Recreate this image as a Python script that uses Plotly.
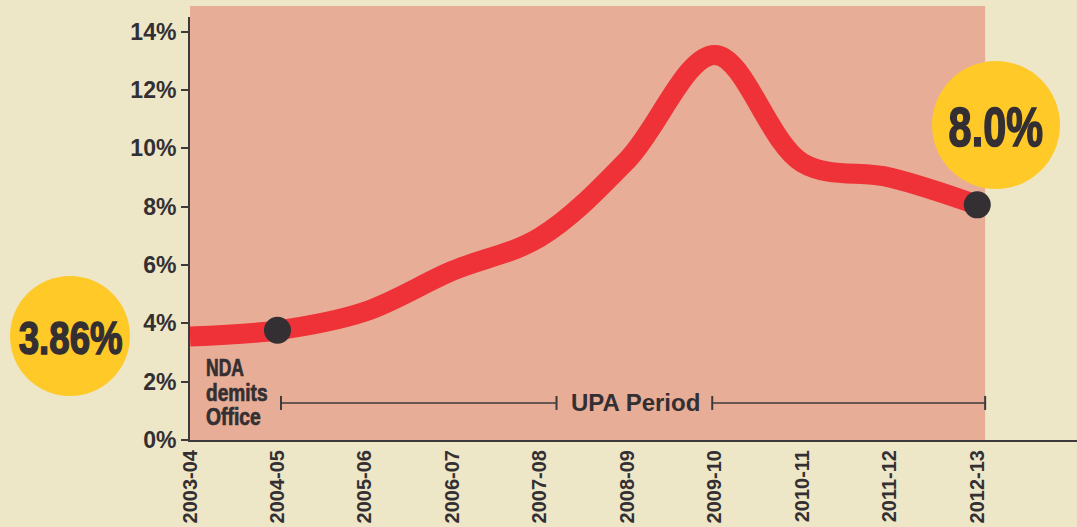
import plotly.graph_objects as go

# ---- data ----
years = ["2003-04", "2004-05", "2005-06", "2006-07", "2007-08",
         "2008-09", "2009-10", "2010-11", "2011-12", "2012-13"]
inflation = [3.55, 3.76, 4.4, 5.8, 6.95, 9.6, 13.2, 9.5, 9.0, 8.06]
y_ticks = [0, 2, 4, 6, 8, 10, 12, 14]
y_tick_text = [f"{v}%" for v in y_ticks]
bubble_labels = ["3.86%", "8.0%"]
highlight_idx = [1, 9]

# ---- styling ----
BG = "#EDE7C7"
SALMON = "#E7AD96"
RED = "#EE3238"
YELLOW = "#FFC928"
DARK = "#332F33"
SANS = "Liberation Sans, Arial, Helvetica, sans-serif"

xs = list(range(len(years)))

# pixel -> paper helpers (plot area: x 190..1077, y 17..440)
def px(x):
    return (x - 190) / 887.0

def py(y):
    return (440 - y) / 423.0

fig = go.Figure()

# inflation line
fig.add_trace(go.Scatter(
    x=xs, y=inflation, mode="lines",
    line=dict(color=RED, width=20, shape="spline", smoothing=1.0),
    hoverinfo="x+y", showlegend=False,
))

# highlight dots
fig.add_trace(go.Scatter(
    x=[xs[i] for i in highlight_idx], y=[inflation[i] for i in highlight_idx],
    mode="markers",
    marker=dict(size=27, color=DARK, opacity=1),
    cliponaxis=False, hoverinfo="skip", showlegend=False,
))

shapes = [
    dict(type="rect", xref="x", yref="paper", x0=0, x1=9.09, y0=0, y1=1.026,
         fillcolor=SALMON, line=dict(width=0), layer="below"),
    # bubbles
    dict(type="circle", xref="paper", yref="paper", x0=px(10), x1=px(130),
         y0=py(396), y1=py(276), fillcolor=YELLOW, line=dict(width=0), layer="below"),
    dict(type="circle", xref="paper", yref="paper", x0=px(932), x1=px(1060),
         y0=py(189), y1=py(61), fillcolor=YELLOW, line=dict(width=0), layer="below"),
]
upa_y = 1.27
cap = 0.24
for x0, x1 in [(1.04, 4.19), (5.97, 9.09)]:
    shapes.append(dict(type="line", xref="x", yref="y", x0=x0, x1=x1, y0=upa_y, y1=upa_y,
                       line=dict(color="#3E3A3C", width=1.6)))
    for xc in (x0, x1):
        shapes.append(dict(type="line", xref="x", yref="y", x0=xc, x1=xc,
                           y0=upa_y - cap, y1=upa_y + cap,
                           line=dict(color="#3E3A3C", width=2)))

annotations = [
    dict(x=5.09, y=upa_y, xref="x", yref="y", text="<b>UPA Period</b>", showarrow=False,
         font=dict(family=SANS, size=24, color=DARK), xanchor="center", yanchor="middle"),
    dict(x=px(70), y=py(337), xref="paper", yref="paper", text=bubble_labels[0],
         showarrow=False, font=dict(family=SANS, size=47, color=DARK, weight="bold"),
         xanchor="center", yanchor="middle"),
    dict(x=px(996), y=py(126), xref="paper", yref="paper", text=bubble_labels[1],
         showarrow=False, font=dict(family=SANS, size=56, color=DARK, weight="bold"),
         xanchor="center", yanchor="middle"),
]
for txt, yy in [("NDA", 368), ("demits", 393), ("Office", 417)]:
    annotations.append(dict(x=px(204), y=py(yy), xref="paper", yref="paper", text=txt,
                            showarrow=False, xanchor="left", yanchor="middle",
                            font=dict(family=SANS, size=23, color=DARK, weight="bold")))

fig.update_layout(
    width=1077, height=527,
    margin=dict(l=190, r=0, t=17, b=87),
    paper_bgcolor=BG, plot_bgcolor="rgba(0,0,0,0)",
    shapes=shapes, annotations=annotations,
    xaxis=dict(range=[0, 10.14], tickmode="array", tickvals=xs, ticktext=years,
               tickangle=-90, showgrid=False, zeroline=False, showline=True,
               linecolor="#3E3A3C", linewidth=2, ticks="",
               tickfont=dict(family=SANS, size=20, color=DARK, weight="bold")),
    yaxis=dict(range=[0, 14.5], tickmode="array", tickvals=y_ticks, ticktext=y_tick_text,
               showgrid=False, zeroline=False, showline=True, linecolor="#3E3A3C",
               linewidth=2, ticks="outside", ticklen=7, tickwidth=2, tickcolor="#3E3A3C",
               tickfont=dict(family=SANS, size=23, color=DARK, weight="bold")),
    showlegend=False,
)

post = """
document.body.style.margin='0';
var sc = {"3.86%":[0.78,'center',1.5], "8.0%":[0.74,'center',1.6],
          "NDA":[0.76,'left',0.7], "demits":[0.83,'left',0.7], "Office":[0.84,'left',0.7]};
document.querySelectorAll('text.annotation-text').forEach(function(t){
  var k = t.textContent;
  if (sc[k]) {
    t.style.transformBox = 'fill-box';
    t.style.transformOrigin = sc[k][1] + ' center';
    t.style.transform = 'scaleX(' + sc[k][0] + ')';
    t.style.stroke = '#332F33';
    t.style.strokeWidth = sc[k][2] + 'px';
  }
});
"""

fig.write_html("out.html", post_script=post, config={"displayModeBar": False})
